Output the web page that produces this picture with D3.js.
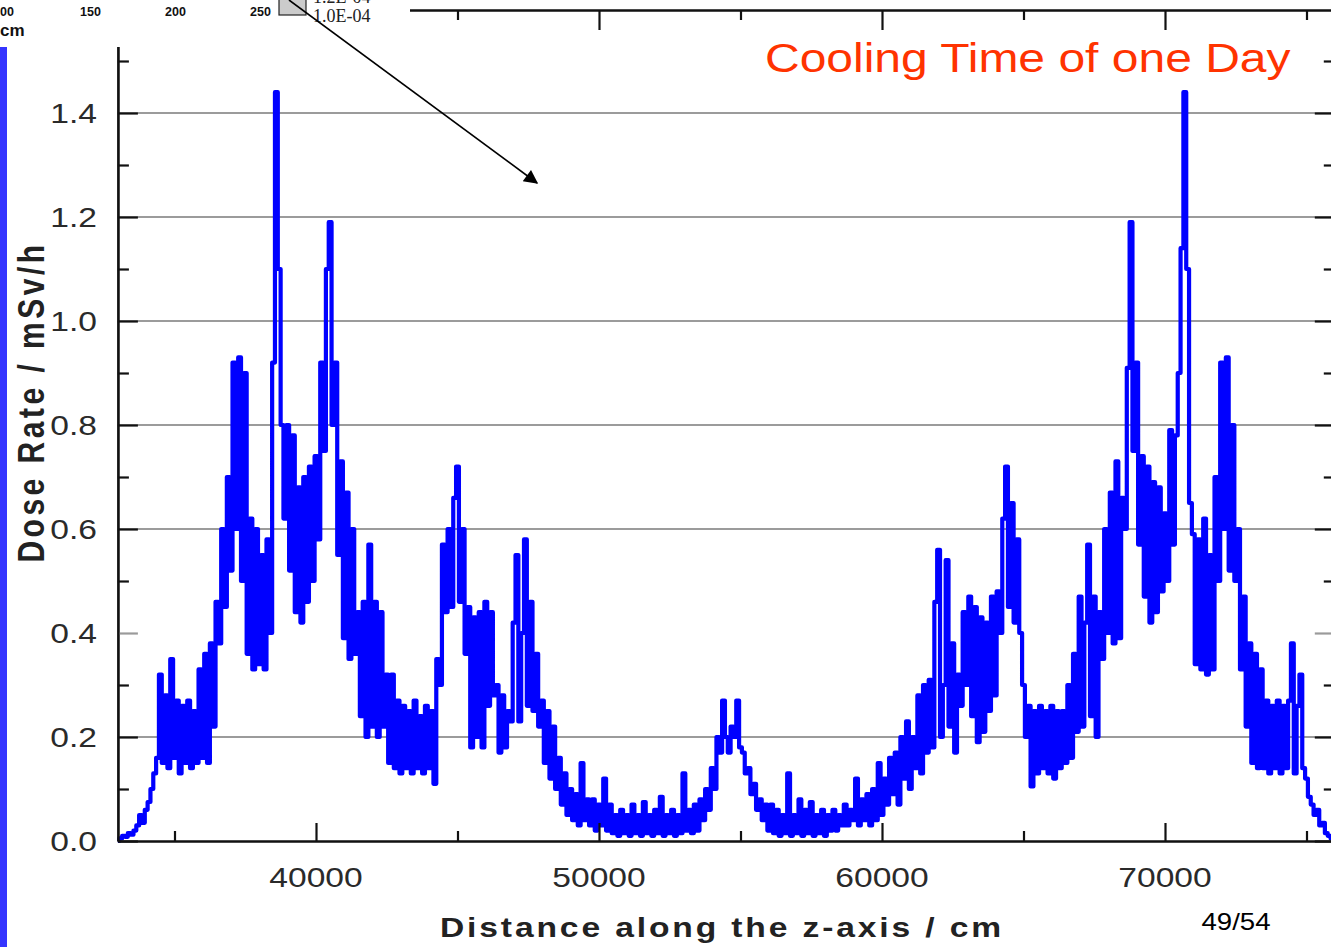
<!DOCTYPE html>
<html><head><meta charset="utf-8">
<script src="https://cdn.jsdelivr.net/npm/d3@7"></script>
<style>html,body{margin:0;padding:0;background:#fff;}svg{display:block;}</style>
</head><body>
<svg id="c" width="1331" height="947"></svg>
<script>
// ---- data ----
const zStart = 33000;   // cm
const zStep = 100;      // cm between samples
const doseRate = [
 0.0,0.005,0.01,0.008,0.015,0.012,0.02,0.03,0.05,0.035,
 0.06,0.075,0.1,0.13,0.16,0.32,0.15,0.28,0.14,0.35,
 0.16,0.27,0.13,0.26,0.15,0.27,0.14,0.25,0.15,0.33,
 0.16,0.36,0.15,0.38,0.22,0.46,0.38,0.6,0.45,0.7,
 0.52,0.92,0.6,0.93,0.5,0.9,0.36,0.62,0.33,0.6,
 0.34,0.55,0.33,0.58,0.4,0.92,1.44,1.1,0.8,0.62,
 0.8,0.52,0.78,0.44,0.68,0.42,0.7,0.46,0.72,0.5,
 0.74,0.58,0.92,0.75,1.1,1.19,0.8,0.92,0.55,0.73,
 0.39,0.67,0.35,0.6,0.36,0.44,0.24,0.46,0.2,0.57,
 0.22,0.46,0.2,0.44,0.22,0.32,0.15,0.32,0.14,0.27,
 0.13,0.26,0.14,0.25,0.13,0.27,0.14,0.24,0.13,0.26,
 0.14,0.25,0.11,0.35,0.3,0.57,0.44,0.6,0.45,0.66,
 0.72,0.46,0.6,0.36,0.45,0.18,0.43,0.2,0.44,0.18,
 0.46,0.26,0.44,0.28,0.3,0.17,0.28,0.18,0.25,0.23,
 0.42,0.55,0.23,0.4,0.58,0.26,0.46,0.25,0.36,0.22,
 0.27,0.15,0.25,0.12,0.22,0.1,0.16,0.07,0.13,0.05,
 0.1,0.04,0.09,0.03,0.15,0.04,0.08,0.03,0.08,0.02,
 0.07,0.03,0.12,0.02,0.07,0.015,0.05,0.01,0.06,0.015,
 0.05,0.01,0.07,0.015,0.05,0.01,0.075,0.015,0.05,0.01,
 0.06,0.015,0.085,0.01,0.05,0.015,0.06,0.01,0.05,0.015,
 0.13,0.02,0.06,0.015,0.07,0.02,0.08,0.04,0.1,0.06,
 0.14,0.1,0.2,0.17,0.27,0.2,0.17,0.22,0.2,0.27,
 0.18,0.17,0.13,0.14,0.09,0.11,0.06,0.08,0.04,0.07,
 0.02,0.07,0.015,0.06,0.01,0.05,0.015,0.13,0.01,0.05,
 0.015,0.08,0.01,0.06,0.015,0.075,0.01,0.05,0.015,0.06,
 0.01,0.05,0.02,0.06,0.02,0.05,0.03,0.07,0.03,0.06,
 0.04,0.12,0.03,0.08,0.04,0.09,0.03,0.1,0.04,0.15,
 0.05,0.12,0.07,0.16,0.09,0.17,0.07,0.2,0.12,0.23,
 0.1,0.2,0.14,0.28,0.13,0.3,0.17,0.31,0.18,0.46,
 0.56,0.2,0.3,0.54,0.22,0.38,0.17,0.32,0.26,0.44,
 0.3,0.47,0.24,0.45,0.19,0.43,0.21,0.42,0.25,0.47,
 0.28,0.48,0.4,0.62,0.72,0.45,0.65,0.42,0.58,0.4,
 0.3,0.2,0.26,0.105,0.25,0.13,0.26,0.14,0.25,0.13,
 0.26,0.12,0.25,0.14,0.25,0.15,0.3,0.16,0.36,0.21,
 0.47,0.22,0.42,0.57,0.24,0.47,0.2,0.44,0.35,0.6,
 0.4,0.67,0.38,0.73,0.39,0.66,0.6,0.91,1.19,0.75,
 0.92,0.57,0.74,0.47,0.72,0.42,0.69,0.44,0.68,0.48,
 0.63,0.5,0.79,0.57,0.78,0.9,1.14,1.44,1.1,0.65,
 0.59,0.34,0.58,0.33,0.62,0.32,0.55,0.33,0.7,0.5,
 0.92,0.6,0.93,0.52,0.8,0.5,0.6,0.33,0.47,0.22,
 0.38,0.15,0.36,0.14,0.33,0.14,0.27,0.13,0.26,0.14,
 0.27,0.13,0.26,0.14,0.27,0.38,0.13,0.26,0.32,0.14,
 0.12,0.085,0.07,0.05,0.06,0.03,0.035,0.015,0.01,0.005,
 0.0
];
const yMajorTicks = [0, 0.2, 0.4, 0.6, 0.8, 1.0, 1.2, 1.4];
const yTickLabels = ["0.0", "0.2", "0.4", "0.6", "0.8", "1.0", "1.2", "1.4"];
const yMinorTicks = [0.1, 0.3, 0.5, 0.7, 0.9, 1.1, 1.3, 1.5];
const gridValues = [0.2, 0.6, 0.8, 1.0, 1.2, 1.4];
const xMajorTicks = [40000, 50000, 60000, 70000];
const xTickLabels = ["40000", "50000", "60000", "70000"];
const xMinorTicks = [35000, 45000, 55000, 65000, 75000];
const insetLabels = ["00", "150", "200", "250"];

// ---- layout ----
const svg = d3.select("#c");
const pLeft = 117.9, pRight = 1334.8, pTop = 9, pBottom = 841;
const x = d3.scaleLinear().domain([33000, 76000]).range([pLeft, pRight]);
const y = d3.scaleLinear().domain([0, 1.6]).range([pBottom, pTop]);
const SX = 1.2; // horizontal stretch of the slide text
const font = "Arial, 'Liberation Sans', Helvetica, sans-serif";

// grid lines
svg.append("g").selectAll("line").data(gridValues).join("line")
  .attr("x1", pLeft).attr("x2", 1331).attr("y1", d => y(d)).attr("y2", d => y(d))
  .attr("stroke", "#7a7a7a").attr("stroke-width", 1.5);

// data line (histogram-like mesh tally -> step curve)
const line = d3.line().curve(d3.curveStep)
  .x((d, i) => x(zStart + i * zStep)).y(d => y(d));
svg.append("path").datum(doseRate).attr("d", line)
  .attr("fill", "none").attr("stroke", "#0000ff").attr("stroke-width", 4.2)
  .attr("stroke-linejoin", "round");

// axes (ticks inward)
function styleAxis(g) {
  g.selectAll("path.domain").attr("stroke", "#111").attr("stroke-width", 2.2);
  g.selectAll(".tick line").attr("stroke", "#111").attr("stroke-width", 2.2);
  g.selectAll(".tick text").remove();
}
svg.append("g").attr("transform", `translate(${pLeft},0)`)
  .call(d3.axisRight(y).tickValues(yMajorTicks).tickSize(20).tickSizeOuter(0).tickFormat(""))
  .call(styleAxis);
svg.append("g").attr("transform", `translate(${pLeft},0)`)
  .call(d3.axisRight(y).tickValues(yMinorTicks).tickSize(11).tickSizeOuter(0).tickFormat(""))
  .call(styleAxis);
svg.append("g").attr("transform", `translate(${pRight},0)`)
  .call(d3.axisLeft(y).tickValues(yMajorTicks).tickSize(20).tickSizeOuter(0).tickFormat(""))
  .call(styleAxis);
svg.append("g").attr("transform", `translate(${pRight},0)`)
  .call(d3.axisLeft(y).tickValues(yMinorTicks).tickSize(11).tickSizeOuter(0).tickFormat(""))
  .call(styleAxis);
svg.append("g").attr("transform", `translate(0,${pBottom})`)
  .call(d3.axisTop(x).tickValues(xMajorTicks).tickSize(18).tickSizeOuter(0).tickFormat(""))
  .call(styleAxis);
svg.append("g").attr("transform", `translate(0,${pBottom})`)
  .call(d3.axisTop(x).tickValues(xMinorTicks).tickSize(10).tickSizeOuter(0).tickFormat(""))
  .call(styleAxis);
svg.append("g").attr("transform", `translate(0,${pTop + 1})`)
  .call(d3.axisBottom(x).tickValues(xMajorTicks).tickSize(20).tickSizeOuter(0).tickFormat(""))
  .call(styleAxis);
svg.append("g").attr("transform", `translate(0,${pTop + 1})`)
  .call(d3.axisBottom(x).tickValues(xMinorTicks).tickSize(10).tickSizeOuter(0).tickFormat(""))
  .call(styleAxis);
// the 0.4 ticks appear gray
svg.selectAll(".tick").filter(d => d === 0.4).selectAll("line").attr("stroke", "#9a9a9a");

// y tick labels
svg.append("g").selectAll("text").data(yMajorTicks).join("text")
  .attr("transform", d => `translate(97,${y(d) + 10}) scale(${SX},1)`)
  .attr("text-anchor", "end").attr("font-family", font).attr("font-size", 28)
  .attr("fill", "#2a2a2a").text((d, i) => yTickLabels[i]);
// x tick labels
svg.append("g").selectAll("text").data(xMajorTicks).join("text")
  .attr("transform", d => `translate(${x(d)},887) scale(${SX},1)`)
  .attr("text-anchor", "middle").attr("font-family", font).attr("font-size", 28)
  .attr("fill", "#2a2a2a").text((d, i) => xTickLabels[i]);

// axis titles
svg.append("text")
  .attr("transform", `translate(722,937) scale(${SX},1)`)
  .attr("text-anchor", "middle").attr("font-family", font).attr("font-size", 28)
  .attr("font-weight", "bold").attr("letter-spacing", 2.4).attr("fill", "#222")
  .text("Distance along the z-axis / cm");
svg.append("text")
  .attr("transform", `translate(44,402) scale(${SX},1) rotate(-90)`)
  .attr("text-anchor", "middle").attr("font-family", font).attr("font-size", 30)
  .attr("font-weight", "bold").attr("letter-spacing", 3.5).attr("fill", "#222")
  .text("Dose Rate / mSv/h");

// annotation
svg.append("text")
  .attr("transform", `translate(765,72) scale(${SX},1)`)
  .attr("font-family", font).attr("font-size", 40).attr("fill", "#ff3300")
  .text("Cooling Time of one Day");
svg.append("text")
  .attr("transform", `translate(1236,930) scale(${SX},1)`)
  .attr("text-anchor", "middle").attr("font-family", font).attr("font-size", 23)
  .attr("fill", "#000").text("49/54");

// left blue bar
svg.append("rect").attr("x", 0).attr("y", 47).attr("width", 7).attr("height", 900).attr("fill", "#3535ff");

// inset fragment (top-left, partly outside the slide)
svg.append("rect").attr("x", 0).attr("y", 0).attr("width", 410).attr("height", 47).attr("fill", "#fff");
const insetX = [0, 80, 165, 250];
svg.append("g").selectAll("text").data(insetLabels).join("text")
  .attr("x", (d, i) => insetX[i]).attr("y", 16)
  .attr("font-family", font).attr("font-size", 12.5).attr("font-weight", "bold").attr("fill", "#111")
  .text(d => d);
svg.append("text").attr("x", 0).attr("y", 36).attr("font-family", font).attr("font-size", 17)
  .attr("font-weight", "bold").attr("fill", "#111").text("cm");
svg.append("rect").attr("x", 279).attr("y", -2).attr("width", 27).attr("height", 17)
  .attr("fill", "#cbcbcb").attr("stroke", "#222").attr("stroke-width", 1.2);
svg.append("text").attr("x", 313).attr("y", 3).attr("font-family", "'Liberation Serif', 'DejaVu Serif', serif")
  .attr("font-size", 18).attr("fill", "#222").text("1.2E-04");
svg.append("text").attr("x", 313).attr("y", 22).attr("font-family", "'Liberation Serif', 'DejaVu Serif', serif")
  .attr("font-size", 18).attr("fill", "#222").text("1.0E-04");

// arrow
svg.append("defs").append("marker").attr("id", "ah").attr("viewBox", "0 0 10 10")
  .attr("refX", 9).attr("refY", 5).attr("markerWidth", 18).attr("markerHeight", 14)
  .attr("markerUnits", "userSpaceOnUse").attr("orient", "auto")
  .append("path").attr("d", "M0,0 L10,5 L0,10 Z").attr("fill", "#000");
svg.append("line").attr("x1", 289).attr("y1", 0).attr("x2", 537).attr("y2", 183)
  .attr("stroke", "#000").attr("stroke-width", 1.6).attr("marker-end", "url(#ah)");
</script>
</body></html>
